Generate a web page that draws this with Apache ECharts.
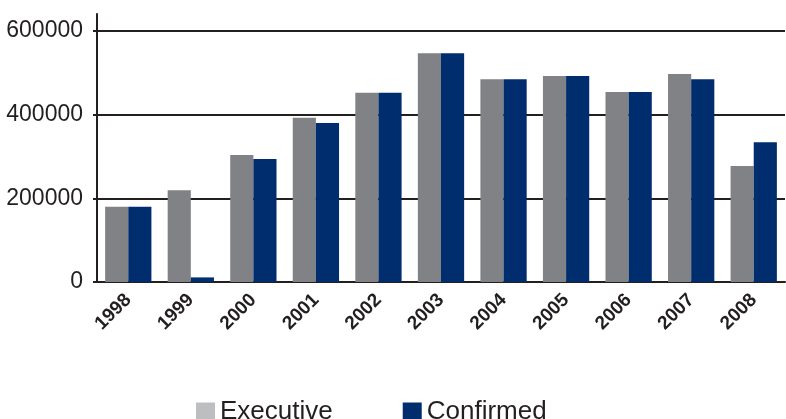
<!DOCTYPE html>
<html>
<head>
<meta charset="utf-8">
<script src="https://cdn.jsdelivr.net/npm/echarts@6/dist/echarts.min.js"></script>
<style>
html,body{margin:0;padding:0;background:#fff;}
#chart{width:786px;height:419px;}
</style>
</head>
<body>
<div id="chart"></div>
<script>
const years = ['1998','1999','2000','2001','2002','2003','2004','2005','2006','2007','2008'];
const executive = [180000, 219000, 303000, 392000, 452000, 546000, 484000, 492000, 454000, 497000, 277000];
const confirmed = [180000, 11000, 294000, 380000, 452000, 546000, 484000, 492000, 454000, 484000, 334000];
const yTicks = [0, 200000, 400000, 600000];

const textColor = '#231f20';
const chart = echarts.init(document.getElementById('chart'), null, {renderer: 'canvas'});
chart.setOption({
  animation: false,
  backgroundColor: '#ffffff',
  textStyle: {fontFamily: 'Liberation Sans, Arial, sans-serif'},
  grid: {left: 97, right: 1, top: 14, bottom: 137, containLabel: false},
  legend: {
    left: 196, top: 399, padding: 0,
    itemWidth: 19, itemHeight: 19, itemGap: 70,
    icon: 'rect',
    textStyle: {fontSize: 26, color: textColor, padding: [0, 0, 0, 0]},
    data: [
      {name: 'Executive', itemStyle: {color: '#bcbec0'}},
      {name: 'Confirmed', itemStyle: {color: '#002d6e'}}
    ]
  },
  xAxis: {
    type: 'category',
    data: years,
    boundaryGap: true,
    axisLine: {lineStyle: {color: textColor, width: 2}},
    axisTick: {alignWithLabel: true, length: 10, lineStyle: {color: textColor, width: 2}},
    axisLabel: {rotate: 45, fontSize: 19, fontWeight: 'bold', color: textColor, margin: 15, interval: 0}
  },
  yAxis: {
    type: 'value',
    min: 0, max: 640000, interval: 200000,
    axisLine: {show: true, lineStyle: {color: textColor, width: 2}},
    axisTick: {show: true, length: 4, lineStyle: {color: textColor, width: 2}},
    axisLabel: {
      fontSize: 23, color: textColor, margin: 14,
      showMaxLabel: false,
      formatter: function (v) { return yTicks.indexOf(v) >= 0 ? String(v) : ''; }
    },
    splitLine: {show: true, showMaxLine: false, lineStyle: {color: textColor, width: 2}}
  },
  series: [
    {name: 'Executive', type: 'bar', data: executive, barGap: '0%', barCategoryGap: '26%', itemStyle: {color: '#808285'}},
    {name: 'Confirmed', type: 'bar', data: confirmed, barGap: '0%', barCategoryGap: '26%', itemStyle: {color: '#002d6e'}}
  ]
});
</script>
</body>
</html>
